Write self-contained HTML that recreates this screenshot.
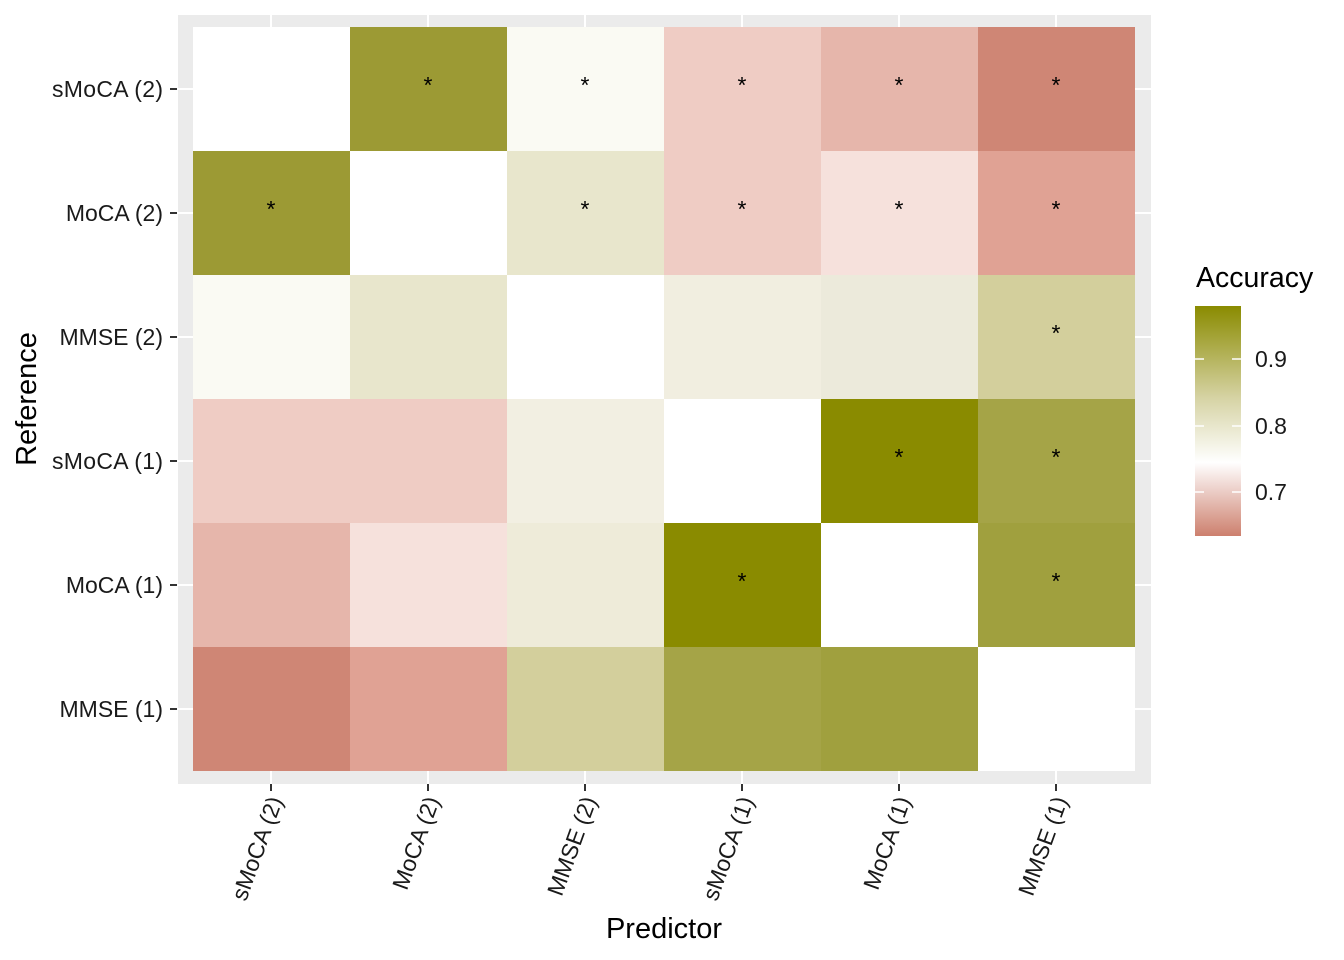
<!DOCTYPE html>
<html><head><meta charset="utf-8"><style>body{margin:0;background:#fff}svg{display:block}text{font-family:"Liberation Sans",sans-serif}</style></head><body>
<svg width="1344" height="960" viewBox="0 0 1344 960">
<defs><linearGradient id="g" x1="0" y1="1" x2="0" y2="0">
<stop offset="0" stop-color="#cd806e"/><stop offset="0.32" stop-color="#ffffff"/><stop offset="0.6" stop-color="#d6d3a4"/><stop offset="1" stop-color="#8a8b00"/></linearGradient></defs>
<rect x="178" y="15" width="973" height="769" fill="#ebebeb"/>
<g stroke="#fff" stroke-width="2">
<line x1="271" y1="15" x2="271" y2="784"/><line x1="428" y1="15" x2="428" y2="784"/><line x1="585" y1="15" x2="585" y2="784"/><line x1="742" y1="15" x2="742" y2="784"/><line x1="899" y1="15" x2="899" y2="784"/><line x1="1056" y1="15" x2="1056" y2="784"/>
<line x1="178" y1="89" x2="1151" y2="89"/><line x1="178" y1="213" x2="1151" y2="213"/><line x1="178" y1="337" x2="1151" y2="337"/><line x1="178" y1="461" x2="1151" y2="461"/><line x1="178" y1="585" x2="1151" y2="585"/><line x1="178" y1="709" x2="1151" y2="709"/>
</g>
<g shape-rendering="crispEdges">
<rect x="193" y="27" width="157" height="124" fill="#ffffff"/><rect x="350" y="27" width="157" height="124" fill="#9c9a34"/><rect x="507" y="27" width="157" height="124" fill="#fafaf3"/><rect x="664" y="27" width="157" height="124" fill="#efccc4"/><rect x="821" y="27" width="157" height="124" fill="#e6b6ab"/><rect x="978" y="27" width="157" height="124" fill="#cf8675"/>
<rect x="193" y="151" width="157" height="124" fill="#9c9a34"/><rect x="350" y="151" width="157" height="124" fill="#ffffff"/><rect x="507" y="151" width="157" height="124" fill="#e8e6cc"/><rect x="664" y="151" width="157" height="124" fill="#efccc4"/><rect x="821" y="151" width="157" height="124" fill="#f6e1dc"/><rect x="978" y="151" width="157" height="124" fill="#e0a294"/>
<rect x="193" y="275" width="157" height="124" fill="#fafaf3"/><rect x="350" y="275" width="157" height="124" fill="#e8e6cc"/><rect x="507" y="275" width="157" height="124" fill="#ffffff"/><rect x="664" y="275" width="157" height="124" fill="#f1eee0"/><rect x="821" y="275" width="157" height="124" fill="#eceadb"/><rect x="978" y="275" width="157" height="124" fill="#d3cf9c"/>
<rect x="193" y="399" width="157" height="124" fill="#efccc4"/><rect x="350" y="399" width="157" height="124" fill="#efccc4"/><rect x="507" y="399" width="157" height="124" fill="#f2efe2"/><rect x="664" y="399" width="157" height="124" fill="#ffffff"/><rect x="821" y="399" width="157" height="124" fill="#8a8b00"/><rect x="978" y="399" width="157" height="124" fill="#a5a447"/>
<rect x="193" y="523" width="157" height="124" fill="#e6b6ab"/><rect x="350" y="523" width="157" height="124" fill="#f6e1dc"/><rect x="507" y="523" width="157" height="124" fill="#eeebd9"/><rect x="664" y="523" width="157" height="124" fill="#8a8b00"/><rect x="821" y="523" width="157" height="124" fill="#ffffff"/><rect x="978" y="523" width="157" height="124" fill="#a0a03e"/>
<rect x="193" y="647" width="157" height="124" fill="#cf8675"/><rect x="350" y="647" width="157" height="124" fill="#e0a294"/><rect x="507" y="647" width="157" height="124" fill="#d3cf9c"/><rect x="664" y="647" width="157" height="124" fill="#a5a447"/><rect x="821" y="647" width="157" height="124" fill="#a0a03e"/><rect x="978" y="647" width="157" height="124" fill="#ffffff"/>
</g>
<g font-size="23" text-anchor="middle">
<text x="428" y="93">*</text><text x="585" y="93">*</text><text x="742" y="93">*</text><text x="899" y="93">*</text><text x="1056" y="93">*</text>
<text x="271" y="217">*</text><text x="585" y="217">*</text><text x="742" y="217">*</text><text x="899" y="217">*</text><text x="1056" y="217">*</text>
<text x="1056" y="341">*</text>
<text x="899" y="465">*</text><text x="1056" y="465">*</text>
<text x="742" y="589">*</text><text x="1056" y="589">*</text>
</g>
<g stroke="#333" stroke-width="2">
<line x1="170" y1="89" x2="177" y2="89"/><line x1="170" y1="213" x2="177" y2="213"/><line x1="170" y1="337" x2="177" y2="337"/><line x1="170" y1="461" x2="177" y2="461"/><line x1="170" y1="585" x2="177" y2="585"/><line x1="170" y1="709" x2="177" y2="709"/>
<line x1="271" y1="784" x2="271" y2="791"/><line x1="428" y1="784" x2="428" y2="791"/><line x1="585" y1="784" x2="585" y2="791"/><line x1="742" y1="784" x2="742" y2="791"/><line x1="899" y1="784" x2="899" y2="791"/><line x1="1056" y1="784" x2="1056" y2="791"/>
</g>
<g font-size="23" fill="#1a1a1a" text-anchor="end">
<text x="163" y="97" textLength="111">sMoCA (2)</text><text x="163" y="221">MoCA (2)</text><text x="163" y="345">MMSE (2)</text><text x="163" y="469" textLength="111">sMoCA (1)</text><text x="163" y="593">MoCA (1)</text><text x="163" y="717">MMSE (1)</text>
<text transform="translate(283,800) rotate(-70)">sMoCA (2)</text>
<text transform="translate(440,800) rotate(-70)">MoCA (2)</text>
<text transform="translate(597,800) rotate(-70)">MMSE (2)</text>
<text transform="translate(754,800) rotate(-70)">sMoCA (1)</text>
<text transform="translate(911,800) rotate(-70)">MoCA (1)</text>
<text transform="translate(1068,800) rotate(-70)">MMSE (1)</text>
</g>
<text x="664" y="938" font-size="29" text-anchor="middle">Predictor</text>
<text transform="translate(36,399) rotate(-90)" font-size="29" text-anchor="middle">Reference</text>
<text x="1196" y="287" font-size="28.5">Accuracy</text>
<rect x="1195" y="306" width="46" height="230" fill="url(#g)"/>
<g stroke="#fff" stroke-width="1.5">
<line x1="1195" y1="359" x2="1204" y2="359"/><line x1="1232" y1="359" x2="1241" y2="359"/>
<line x1="1195" y1="426" x2="1204" y2="426"/><line x1="1232" y1="426" x2="1241" y2="426"/>
<line x1="1195" y1="492" x2="1204" y2="492"/><line x1="1232" y1="492" x2="1241" y2="492"/>
</g>
<g font-size="23" fill="#1a1a1a">
<text x="1255" y="367">0.9</text><text x="1255" y="434">0.8</text><text x="1255" y="500">0.7</text>
</g>
</svg>
</body></html>
